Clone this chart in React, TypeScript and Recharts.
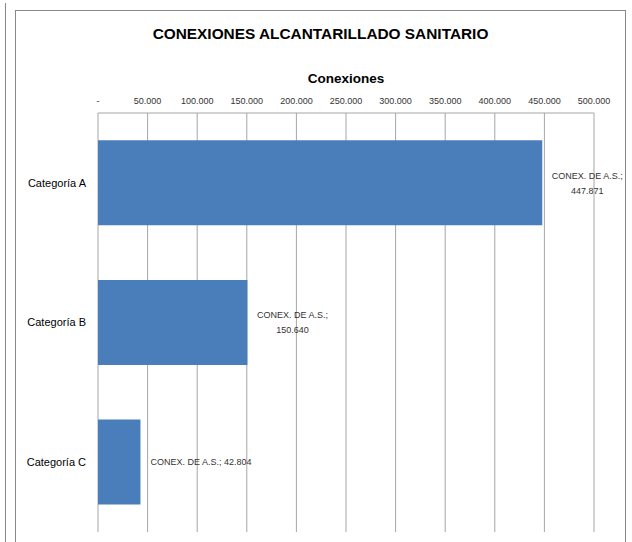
import { BarChart, Bar, XAxis, YAxis, CartesianGrid, LabelList } from 'recharts';

const CATEGORIES = ['Categoría A', 'Categoría B', 'Categoría C'];
const CONEXIONES = [447871, 150640, 42804];
const SERIES_NAME = 'CONEX. DE A.S.';
const X_TICKS = [0, 50000, 100000, 150000, 200000, 250000, 300000, 350000, 400000, 450000, 500000];

const FONT = "'Liberation Sans', Arial, sans-serif";

const data = CATEGORIES.map((name, i) => ({ name, value: CONEXIONES[i] }));

const fmt = (v: number) => (v === 0 ? '-' : v.toLocaleString('de-DE'));

function BarLabel(props: any) {
  const { x, y, width, height, value, index } = props;
  const end = x + width;
  const cy = y + height / 2;
  const text = `${SERIES_NAME}; ${fmt(value)}`;
  // Excel wrapped the first two labels onto two lines
  if (index < 2) {
    const cx = end + 45;
    return (
      <text x={cx} y={cy} textAnchor="middle" fontSize={9} fill="#333" fontFamily={FONT}>
        <tspan x={cx} dy={-4}>{`${SERIES_NAME};`}</tspan>
        <tspan x={cx} dy={15}>{fmt(value)}</tspan>
      </text>
    );
  }
  return (
    <text x={end + 10} y={cy + 3} textAnchor="start" fontSize={9} fill="#333" fontFamily={FONT}>
      {text}
    </text>
  );
}

export default function App() {
  return (
    <div style={{ position: 'fixed', left: 0, top: 0, width: 632, height: 542, background: '#fff', fontFamily: FONT }}>
      <div style={{ position: 'absolute', left: 5, top: 3, width: 1, height: 539, background: '#888' }} />
      <div
        style={{
          position: 'absolute',
          left: 15,
          top: 10,
          width: 611,
          height: 540,
          border: '1px solid #888',
          boxSizing: 'border-box',
        }}
      />
      <div
        style={{
          position: 'absolute',
          left: 15,
          width: 611,
          top: 25,
          textAlign: 'center',
          fontWeight: 'bold',
          fontSize: 15.4,
          color: '#000',
        }}
      >
        CONEXIONES ALCANTARILLADO SANITARIO
      </div>
      <div style={{ position: 'absolute', left: 0, top: 0 }}>
        <BarChart
          width={632}
          height={542}
          data={data}
          layout="vertical"
          margin={{ top: 83, right: 38, bottom: 10, left: 13 }}
          barCategoryGap="19.5%"
        >
          <CartesianGrid horizontal={false} stroke="#a6a6a6" />
          <XAxis
            type="number"
            orientation="top"
            domain={[0, 500000]}
            ticks={X_TICKS}
            tickFormatter={fmt}
            height={30}
            tickLine={false}
            tickSize={6}
            tickMargin={3}
            axisLine={{ stroke: '#a6a6a6' }}
            tick={{ fontSize: 9, fill: '#333', fontFamily: FONT }}
            interval={0}
            label={{
              value: 'Conexiones',
              position: 'top',
              offset: 0,
              fontSize: 13.5,
              fontWeight: 'bold',
              fill: '#000',
              fontFamily: FONT,
            }}
          />
          <YAxis
            type="category"
            dataKey="name"
            width={85}
            tickLine={false}
            axisLine={false}
            tickMargin={6}
            tick={{ fontSize: 11, fill: '#000', fontFamily: FONT }}
          />
          <Bar dataKey="value" fill="#4a7ebb" isAnimationActive={false}>
            <LabelList dataKey="value" content={BarLabel} />
          </Bar>
        </BarChart>
      </div>
    </div>
  );
}
